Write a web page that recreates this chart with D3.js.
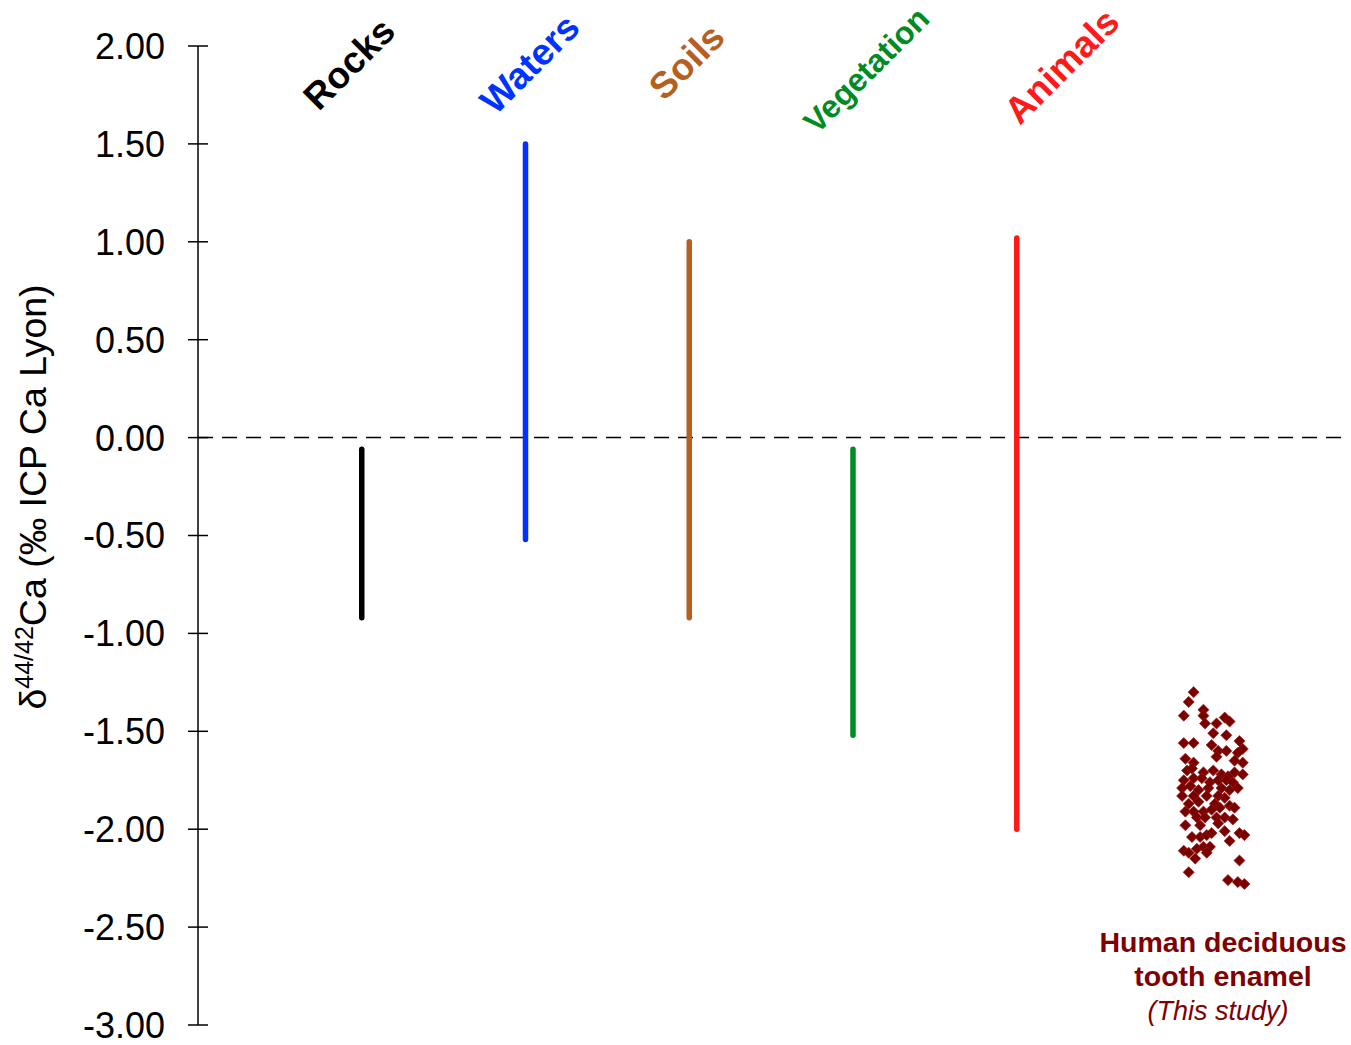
<!DOCTYPE html>
<html>
<head>
<meta charset="utf-8">
<script src="https://cdn.jsdelivr.net/npm/d3@7"></script>
<style>
  body { margin: 0; background: #fff; }
  svg { display: block; font-family: "Liberation Sans", Arial, sans-serif; }
</style>
</head>
<body>
<script>
var width = 1351, height = 1045;

// reservoir ranges (delta 44/42 Ca, permil)
var categories = ["Rocks", "Waters", "Soils", "Vegetation", "Animals"];
var rangeMax = [-0.06, 1.50, 1.00, -0.06, 1.02];
var rangeMin = [-0.92, -0.52, -0.92, -1.52, -2.00];
var colors = ["#000000", "#0033ff", "#b5601e", "#008c23", "#ff1a1a"];

var yTicks = [2.00, 1.50, 1.00, 0.50, 0.00, -0.50, -1.00, -1.50, -2.00, -2.50, -3.00];

// human deciduous tooth enamel: [x position (jittered), delta value]
var enamelX = [6.08, 6.05, 6.02, 6.14, 6.14, 6.15, 6.22, 6.27, 6.30, 6.20, 6.28, 6.02, 6.08, 6.19, 6.36,
  6.23, 6.28, 6.38, 6.35, 6.03, 6.08, 6.22, 6.33, 6.38, 6.04, 6.07, 6.14, 6.20, 6.25, 6.29, 6.33, 6.38,
  6.02, 6.08, 6.13, 6.18, 6.23, 6.28, 6.32, 6.01, 6.06, 6.11, 6.17, 6.25, 6.30, 6.35, 6.01, 6.08, 6.16,
  6.23, 6.27, 6.05, 6.11, 6.21, 6.03, 6.08, 6.14, 6.19, 6.24, 6.30, 6.33, 6.10, 6.15, 6.22, 6.27, 6.32,
  6.03, 6.12, 6.23, 6.27, 6.07, 6.12, 6.16, 6.19, 6.36, 6.39, 6.30, 6.02, 6.05, 6.10, 6.14, 6.18, 6.16,
  6.09, 6.36, 6.05, 6.29, 6.35, 6.39];
var enamelY = [-1.30, -1.35, -1.42, -1.39, -1.42, -1.46, -1.46, -1.43, -1.45, -1.51, -1.52, -1.56, -1.56, -1.57, -1.55,
  -1.60, -1.60, -1.59, -1.61, -1.64, -1.66, -1.63, -1.65, -1.66, -1.70, -1.69, -1.71, -1.70, -1.72, -1.73, -1.71, -1.72,
  -1.75, -1.74, -1.74, -1.76, -1.75, -1.75, -1.76, -1.79, -1.78, -1.80, -1.79, -1.79, -1.80, -1.79, -1.83, -1.83, -1.83,
  -1.83, -1.84, -1.87, -1.86, -1.87, -1.91, -1.91, -1.91, -1.90, -1.89, -1.88, -1.89, -1.94, -1.94, -1.94, -1.94, -1.95,
  -1.98, -1.98, -1.97, -2.01, -2.04, -2.04, -2.03, -2.02, -2.02, -2.03, -2.06, -2.11, -2.12, -2.10, -2.09, -2.09, -2.12,
  -2.15, -2.16, -2.22, -2.26, -2.27, -2.28];

var svg = d3.select("body").append("svg")
    .attr("width", width)
    .attr("height", height);

var x = d3.scaleLinear().domain([0, 7]).range([198, 198 + 7 * 163.75]);
var y = d3.scaleLinear().domain([-3, 2]).range([1025, 46]);

// y axis with ticks crossing the line
var axis = svg.append("g").attr("transform", "translate(" + x(0) + ",0)");
axis.append("line")
    .attr("y1", y(2)).attr("y2", y(-3))
    .attr("stroke", "#000").attr("stroke-width", 1.5);
axis.selectAll("line.tick")
    .data(yTicks)
    .enter().append("line")
    .attr("class", "tick")
    .attr("x1", -10).attr("x2", 10)
    .attr("y1", d => y(d)).attr("y2", d => y(d))
    .attr("stroke", "#000").attr("stroke-width", 1.5);
axis.selectAll("text")
    .data(yTicks)
    .enter().append("text")
    .attr("x", -33)
    .attr("y", d => y(d))
    .attr("dy", "0.36em")
    .attr("text-anchor", "end")
    .style("font-size", "36px")
    .text(d => d3.format(".2f")(d).replace("−", "-"));

// axis title
var title = svg.append("text")
    .attr("transform", "translate(46," + 497 + ") rotate(-90)")
    .attr("text-anchor", "middle")
    .style("font-size", "37.5px");
title.append("tspan").text("δ");
title.append("tspan").attr("dy", -13).style("font-size", "25px").text("44/42");
title.append("tspan").attr("dy", 13).text("Ca (‰ ICP Ca Lyon)");

// zero line
svg.append("line")
    .attr("x1", x(0)).attr("x2", 1347)
    .attr("y1", y(0)).attr("y2", y(0))
    .attr("stroke", "#000").attr("stroke-width", 1.5)
    .attr("stroke-dasharray", "15,9");

// range bars
svg.selectAll("line.range")
    .data(categories)
    .enter().append("line")
    .attr("class", "range")
    .attr("x1", (d, i) => x(i + 1)).attr("x2", (d, i) => x(i + 1))
    .attr("y1", (d, i) => y(rangeMax[i])).attr("y2", (d, i) => y(rangeMin[i]))
    .attr("stroke", (d, i) => colors[i])
    .attr("stroke-width", 5.5)
    .attr("stroke-linecap", "round");

// rotated category labels (baseline start offsets from bar)
var labelDx = [-43, -30, -25, -36, 3];
var labelY = [112, 116, 102, 135, 126];
var labelSize = [37, 37, 37, 32, 37];
svg.selectAll("text.cat")
    .data(categories)
    .enter().append("text")
    .attr("class", "cat")
    .attr("transform", (d, i) => "translate(" + (x(i + 1) + labelDx[i]) + "," + labelY[i] + ") rotate(-45)")
    .style("font-size", (d, i) => labelSize[i] + "px")
    .style("font-weight", "bold")
    .attr("fill", (d, i) => colors[i])
    .text(d => d);

// enamel points
var diamond = d3.symbol().type(d3.symbolSquare).size(62);
svg.append("g").selectAll("path")
    .data(enamelX)
    .enter().append("path")
    .attr("d", diamond)
    .attr("transform", (d, i) => "translate(" + x(d) + "," + y(enamelY[i]) + ") rotate(45)")
    .attr("fill", "#7a0000")
    .attr("stroke", "#9a1a1a")
    .attr("stroke-width", 0.6);

// study label
var note = svg.append("g").attr("fill", "#800000").attr("text-anchor", "middle");
note.append("text").attr("x", 1223).attr("y", 952)
    .style("font-size", "28.5px").style("font-weight", "bold").text("Human deciduous");
note.append("text").attr("x", 1223).attr("y", 986)
    .style("font-size", "28.5px").style("font-weight", "bold").text("tooth enamel");
note.append("text").attr("x", 1218).attr("y", 1020)
    .style("font-size", "27px").style("font-style", "italic").text("(This study)");
</script>
</body>
</html>
